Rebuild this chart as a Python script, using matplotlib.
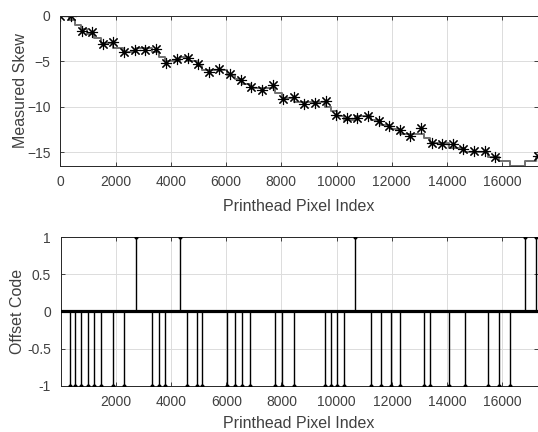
import numpy as np
import matplotlib.pyplot as plt

plt.rcParams['font.family'] = ['Liberation Sans', 'DejaVu Sans']

# measured skew, one sample every 384 printhead pixels (nan = no measurement)
sample_x = [0, 384, 768, 1152, 1536, 1920, 2304, 2688, 3072, 3456,
            3840, 4224, 4608, 4992, 5376, 5760, 6144, 6528, 6912, 7296,
            7680, 8064, 8448, 8832, 9216, 9600, 9984, 10368, 10752, 11136,
            11520, 11904, 12288, 12672, 13056, 13440, 13824, 14208, 14592, 14976,
            15360, 15744, 16128, 16512, 16896, 17280]
skew = [0, 0, -1.64, -1.75, -3.14, -2.88, -3.94, -3.76, -3.72, -3.65,
        -5.15, -4.71, -4.67, -5.29, -6.2, -5.9, -6.39, -7.12, -7.88, -8.21,
        -7.59, -9.16, -8.98, -9.71, -9.6, -9.38, -10.88, -11.28, -11.24, -11.06,
        -11.53, -12.08, -12.6, -13.18, -12.34, -13.98, -14.09, -14.09, -14.71, -14.9,
        -14.9, -15.59, np.nan, np.nan, np.nan, -15.44]

# pixel indices where an offset code was inserted
minus_x = [322, 528, 734, 974, 1216, 1458, 1892, 2277, 3325, 3567,
           3773, 4569, 4931, 5134, 6017, 6328, 6559, 6860, 7780, 8030,
           8460, 9580, 9780, 10000, 10260, 11230, 11620, 11950, 12290, 13180,
           13370, 14070, 14640, 15480, 15880, 16270]
plus_x = [2724, 4327, 10670, 16840, 17210]
step_size = 0.5
n_pix = 17280

# staircase = accumulated offset codes
ev_x = np.array(minus_x + plus_x)
ev_v = np.array([-1] * len(minus_x) + [1] * len(plus_x))
order = np.argsort(ev_x)
stair_x = np.concatenate([[0], ev_x[order], [n_pix]])
stair_y = np.concatenate([[0], np.cumsum(ev_v[order]), [np.sum(ev_v)]]) * step_size

fig = plt.figure(figsize=(5.38, 4.32), dpi=100)
ax1 = fig.add_axes([0.1123, 0.6164, 0.8870, 0.3472])
ax2 = fig.add_axes([0.1128, 0.1072, 0.8865, 0.3435])

edge = '#262626'
for ax in (ax1, ax2):
    ax.grid(True, color='#dcdcdc', lw=0.7)
    ax.set_axisbelow(True)
    ax.tick_params(direction='in', top=True, right=True, labelsize=10,
                   colors=edge, labelcolor='#404040', length=3, width=0.6, pad=7)
    for sp in ax.spines.values():
        sp.set_color(edge)
        sp.set_linewidth(0.7)

ax1.step(stair_x, stair_y, where='post', color='#707070', lw=1.4)
ax1.plot(sample_x, skew, ls='none', marker=(8, 2, 0), ms=8, mew=0.8,
         color='k')
ax1.set_xlim(0, n_pix)
ax1.set_ylim(-16.5, 0)
ax1.set_xticks(np.arange(0, 16001, 2000))
ax1.set_yticks([-15, -10, -5, 0])
ax1.set_xlabel('Printhead Pixel Index', fontsize=11.5, color='#404040', labelpad=7)
ax1.set_ylabel('Measured Skew', fontsize=11.5, color='#404040', labelpad=-0.5)

ax2.axhline(0, color='k', lw=2.3, zorder=3)
ax2.vlines(minus_x, -1, 0, color='k', lw=1.0, zorder=3)
ax2.vlines(plus_x, 0, 1, color='k', lw=1.0, zorder=3)
ax2.plot(minus_x, [-1] * len(minus_x), 'k.', ms=4, zorder=4)
ax2.plot(plus_x, [1] * len(plus_x), 'k.', ms=4, zorder=4)
ax2.set_xlim(1, n_pix)
ax2.set_ylim(-1, 1)
ax2.set_xticks(np.arange(2000, 16001, 2000))
ax2.set_yticks([-1, -0.5, 0, 0.5, 1])
ax2.set_yticklabels(['-1', '-0.5', '0', '0.5', '1'])
ax2.set_xlabel('Printhead Pixel Index', fontsize=11.5, color='#404040', labelpad=5)
ax2.set_ylabel('Offset Code', fontsize=11.5, color='#404040', labelpad=1.5)

fig.savefig('out.png', dpi=100)
